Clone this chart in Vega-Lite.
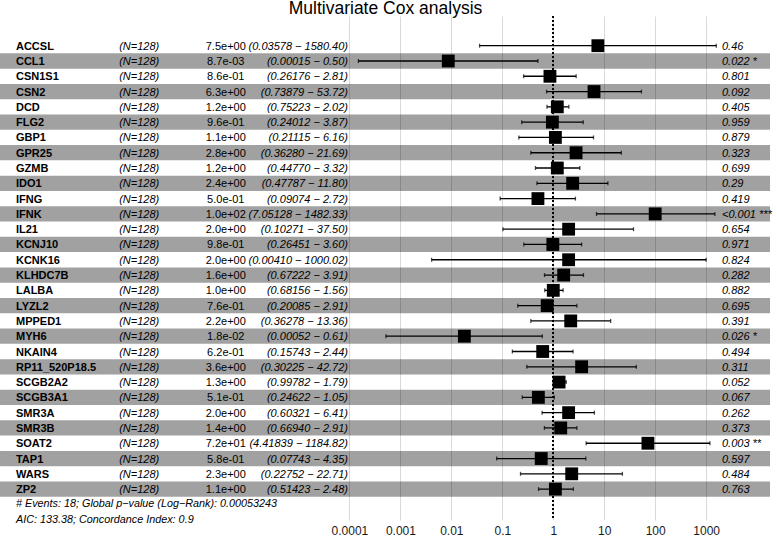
{
  "$schema": "https://vega.github.io/schema/vega-lite/v6.json",
  "width": 777,
  "height": 504,
  "autosize": {"type": "none"},
  "padding": {"left": 0, "top": 16, "right": 0, "bottom": 16},
  "background": "white",
  "title": {"text": "Multivariate Cox analysis", "fontSize": 17.5, "fontWeight": "normal", "anchor": "middle", "frame": "group", "orient": "top", "baseline": "alphabetic", "offset": -16, "dx": -3, "font": "Liberation Sans", "color": "black"},
  "config": {"view": {"stroke": null}, "font": "Liberation Sans"},
  "datasets": {
    "genes": [
      {"row": 1, "gene": "ACCSL", "n": "(N=128)", "hr": 7.5, "lo": 0.03578, "hi": 1580.40, "est": "7.5e+00", "ci": "(0.03578 − 1580.40)", "p": "0.46"},
      {"row": 2, "gene": "CCL1", "n": "(N=128)", "hr": 0.0087, "lo": 0.00015, "hi": 0.50, "est": "8.7e-03", "ci": "(0.00015 −    0.50)", "p": "0.022 *"},
      {"row": 3, "gene": "CSN1S1", "n": "(N=128)", "hr": 0.86, "lo": 0.26176, "hi": 2.81, "est": "8.6e-01", "ci": "(0.26176 −    2.81)", "p": "0.801"},
      {"row": 4, "gene": "CSN2", "n": "(N=128)", "hr": 6.3, "lo": 0.73879, "hi": 53.72, "est": "6.3e+00", "ci": "(0.73879 −   53.72)", "p": "0.092"},
      {"row": 5, "gene": "DCD", "n": "(N=128)", "hr": 1.2, "lo": 0.75223, "hi": 2.02, "est": "1.2e+00", "ci": "(0.75223 −    2.02)", "p": "0.405"},
      {"row": 6, "gene": "FLG2", "n": "(N=128)", "hr": 0.96, "lo": 0.24012, "hi": 3.87, "est": "9.6e-01", "ci": "(0.24012 −    3.87)", "p": "0.959"},
      {"row": 7, "gene": "GBP1", "n": "(N=128)", "hr": 1.1, "lo": 0.21115, "hi": 6.16, "est": "1.1e+00", "ci": "(0.21115 −    6.16)", "p": "0.879"},
      {"row": 8, "gene": "GPR25", "n": "(N=128)", "hr": 2.8, "lo": 0.36280, "hi": 21.69, "est": "2.8e+00", "ci": "(0.36280 −   21.69)", "p": "0.323"},
      {"row": 9, "gene": "GZMB", "n": "(N=128)", "hr": 1.2, "lo": 0.44770, "hi": 3.32, "est": "1.2e+00", "ci": "(0.44770 −    3.32)", "p": "0.699"},
      {"row": 10, "gene": "IDO1", "n": "(N=128)", "hr": 2.4, "lo": 0.47787, "hi": 11.80, "est": "2.4e+00", "ci": "(0.47787 −   11.80)", "p": "0.29"},
      {"row": 11, "gene": "IFNG", "n": "(N=128)", "hr": 0.50, "lo": 0.09074, "hi": 2.72, "est": "5.0e-01", "ci": "(0.09074 −    2.72)", "p": "0.419"},
      {"row": 12, "gene": "IFNK", "n": "(N=128)", "hr": 100, "lo": 7.05128, "hi": 1482.33, "est": "1.0e+02", "ci": "(7.05128 − 1482.33)", "p": "<0.001 ***"},
      {"row": 13, "gene": "IL21", "n": "(N=128)", "hr": 2.0, "lo": 0.10271, "hi": 37.50, "est": "2.0e+00", "ci": "(0.10271 −   37.50)", "p": "0.654"},
      {"row": 14, "gene": "KCNJ10", "n": "(N=128)", "hr": 0.98, "lo": 0.26451, "hi": 3.60, "est": "9.8e-01", "ci": "(0.26451 −    3.60)", "p": "0.971"},
      {"row": 15, "gene": "KCNK16", "n": "(N=128)", "hr": 2.0, "lo": 0.00410, "hi": 1000.02, "est": "2.0e+00", "ci": "(0.00410 − 1000.02)", "p": "0.824"},
      {"row": 16, "gene": "KLHDC7B", "n": "(N=128)", "hr": 1.6, "lo": 0.67222, "hi": 3.91, "est": "1.6e+00", "ci": "(0.67222 −    3.91)", "p": "0.282"},
      {"row": 17, "gene": "LALBA", "n": "(N=128)", "hr": 1.0, "lo": 0.68156, "hi": 1.56, "est": "1.0e+00", "ci": "(0.68156 −    1.56)", "p": "0.882"},
      {"row": 18, "gene": "LYZL2", "n": "(N=128)", "hr": 0.76, "lo": 0.20085, "hi": 2.91, "est": "7.6e-01", "ci": "(0.20085 −    2.91)", "p": "0.695"},
      {"row": 19, "gene": "MPPED1", "n": "(N=128)", "hr": 2.2, "lo": 0.36278, "hi": 13.36, "est": "2.2e+00", "ci": "(0.36278 −   13.36)", "p": "0.391"},
      {"row": 20, "gene": "MYH6", "n": "(N=128)", "hr": 0.018, "lo": 0.00052, "hi": 0.61, "est": "1.8e-02", "ci": "(0.00052 −    0.61)", "p": "0.026 *"},
      {"row": 21, "gene": "NKAIN4", "n": "(N=128)", "hr": 0.62, "lo": 0.15743, "hi": 2.44, "est": "6.2e-01", "ci": "(0.15743 −    2.44)", "p": "0.494"},
      {"row": 22, "gene": "RP11_520P18.5", "n": "(N=128)", "hr": 3.6, "lo": 0.30225, "hi": 42.72, "est": "3.6e+00", "ci": "(0.30225 −   42.72)", "p": "0.311"},
      {"row": 23, "gene": "SCGB2A2", "n": "(N=128)", "hr": 1.3, "lo": 0.99782, "hi": 1.79, "est": "1.3e+00", "ci": "(0.99782 −    1.79)", "p": "0.052"},
      {"row": 24, "gene": "SCGB3A1", "n": "(N=128)", "hr": 0.51, "lo": 0.24622, "hi": 1.05, "est": "5.1e-01", "ci": "(0.24622 −    1.05)", "p": "0.067"},
      {"row": 25, "gene": "SMR3A", "n": "(N=128)", "hr": 2.0, "lo": 0.60321, "hi": 6.41, "est": "2.0e+00", "ci": "(0.60321 −    6.41)", "p": "0.262"},
      {"row": 26, "gene": "SMR3B", "n": "(N=128)", "hr": 1.4, "lo": 0.66940, "hi": 2.91, "est": "1.4e+00", "ci": "(0.66940 −    2.91)", "p": "0.373"},
      {"row": 27, "gene": "SOAT2", "n": "(N=128)", "hr": 72, "lo": 4.41839, "hi": 1184.82, "est": "7.2e+01", "ci": "(4.41839 − 1184.82)", "p": "0.003 **"},
      {"row": 28, "gene": "TAP1", "n": "(N=128)", "hr": 0.58, "lo": 0.07743, "hi": 4.35, "est": "5.8e-01", "ci": "(0.07743 −    4.35)", "p": "0.597"},
      {"row": 29, "gene": "WARS", "n": "(N=128)", "hr": 2.3, "lo": 0.22752, "hi": 22.71, "est": "2.3e+00", "ci": "(0.22752 −   22.71)", "p": "0.484"},
      {"row": 30, "gene": "ZP2", "n": "(N=128)", "hr": 1.1, "lo": 0.51423, "hi": 2.48, "est": "1.1e+00", "ci": "(0.51423 −    2.48)", "p": "0.763"}
    ],
    "footer": [
      {"row": 31, "label": "# Events: 18; Global p−value (Log−Rank): 0.00053243"},
      {"row": 32, "label": "AIC: 133.38; Concordance Index: 0.9"}
    ]
  },
  "encoding": {
    "y": {"field": "row", "type": "quantitative", "scale": {"domain": [-0.942, 32.02], "reverse": true, "nice": false, "zero": false, "padding": 0}, "axis": null}
  },
  "layer": [
    {
      "data": {"name": "genes"},
      "mark": {"type": "rule", "strokeWidth": 0},
      "encoding": {
        "x": {"field": "hr", "type": "quantitative", "title": null,
          "scale": {"type": "log", "domain": [1.39e-11, 24550], "nice": false, "padding": 0},
          "axis": {"values": [0.0001, 0.001, 0.01, 0.1, 1, 10, 100, 1000], "labelExpr": "datum.value >= 1 ? format(datum.value, 'd') : format(datum.value, '.4~f')", "grid": true, "gridColor": "#d9d9d9", "gridWidth": 1, "domain": false, "ticks": false, "labelFontSize": 12, "labelColor": "#1a1a1a", "labelPadding": 5, "labelFont": "Liberation Sans", "labelFlush": false, "labelOverlap": false}
        }
      }
    },
    {
      "data": {"name": "genes"},
      "transform": [{"filter": "datum.row % 2 == 0"}],
      "mark": {"type": "bar", "orient": "horizontal", "color": "black", "opacity": 0.37, "size": 15.29},
      "encoding": {
        "x": {"datum": 1.39e-11, "type": "quantitative", "title": null},
        "x2": {"datum": 17900}
      }
    },
    {
      "data": {"name": "genes"},
      "mark": {"type": "rule", "color": "black", "strokeWidth": 1, "strokeDash": [1.5, 2.5]},
      "encoding": {"x": {"datum": 1, "type": "quantitative", "title": null}, "y": null}
    },
    {
      "data": {"name": "genes"},
      "mark": {"type": "rule", "color": "black", "strokeWidth": 1.3},
      "encoding": {
        "x": {"field": "lo", "type": "quantitative", "title": null},
        "x2": {"field": "hi"}
      }
    },
    {
      "data": {"name": "genes"},
      "mark": {"type": "tick", "orient": "vertical", "color": "black", "size": 4, "thickness": 1.3},
      "encoding": {"x": {"field": "lo", "type": "quantitative", "title": null}}
    },
    {
      "data": {"name": "genes"},
      "mark": {"type": "tick", "orient": "vertical", "color": "black", "size": 4, "thickness": 1.3},
      "encoding": {"x": {"field": "hi", "type": "quantitative", "title": null}}
    },
    {
      "data": {"name": "genes"},
      "mark": {"type": "square", "color": "black", "filled": true, "opacity": 1, "size": 165},
      "encoding": {"x": {"field": "hr", "type": "quantitative", "title": null}}
    },
    {
      "data": {"name": "genes"},
      "mark": {"type": "text", "align": "left", "baseline": "middle", "fontWeight": "bold", "fontSize": 11, "color": "black", "dy": 1},
      "encoding": {"x": {"datum": 2.86e-11, "type": "quantitative", "title": null}, "text": {"field": "gene"}}
    },
    {
      "data": {"name": "genes"},
      "mark": {"type": "text", "align": "center", "baseline": "middle", "fontStyle": "italic", "fontSize": 11, "color": "black", "dy": 1},
      "encoding": {"x": {"datum": 7.49e-9, "type": "quantitative", "title": null}, "text": {"field": "n"}}
    },
    {
      "data": {"name": "genes"},
      "mark": {"type": "text", "align": "center", "baseline": "middle", "fontSize": 11, "color": "black", "dy": 1},
      "encoding": {"x": {"datum": 3.74e-7, "type": "quantitative", "title": null}, "text": {"field": "est"}}
    },
    {
      "data": {"name": "genes"},
      "mark": {"type": "text", "align": "right", "baseline": "middle", "fontStyle": "italic", "fontSize": 11, "color": "black", "dy": 1},
      "encoding": {"x": {"datum": 9.36e-5, "type": "quantitative", "title": null}, "text": {"field": "ci"}}
    },
    {
      "data": {"name": "genes"},
      "mark": {"type": "text", "align": "left", "baseline": "middle", "fontStyle": "italic", "fontSize": 11, "color": "black", "dy": 1},
      "encoding": {"x": {"datum": 2044, "type": "quantitative", "title": null}, "text": {"field": "p"}}
    },
    {
      "data": {"name": "footer"},
      "mark": {"type": "text", "align": "left", "baseline": "middle", "fontStyle": "italic", "fontSize": 10.8, "color": "black"},
      "encoding": {"x": {"datum": 2.86e-11, "type": "quantitative", "title": null}, "text": {"field": "label"}}
    }
  ]
}
